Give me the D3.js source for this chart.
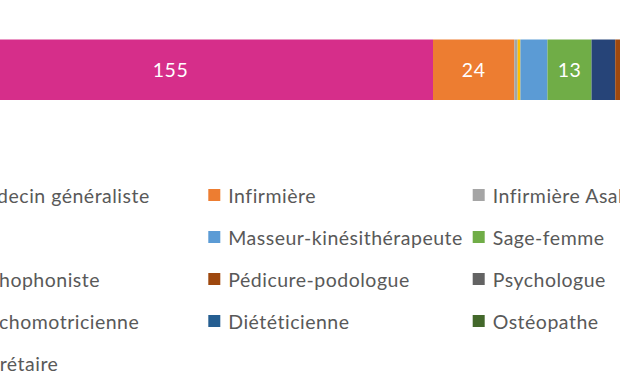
<!DOCTYPE html>
<html><head><meta charset="utf-8">
<script src="https://cdn.jsdelivr.net/npm/d3@7"></script>
<style>body{margin:0;background:#fff;overflow:hidden} svg{display:block}</style>
</head><body><svg width="620" height="380"></svg>
<script>
const categories = ["Médecin généraliste","Infirmière","Infirmière Asalée","AS","Masseur-kinésithérapeute","Sage-femme","Orthophoniste","Pédicure-podologue","Psychologue","Psychomotricienne","Diététicienne","Ostéopathe","Secrétaire"];
const values = [155,24,1,0.8,8,13,7,2,3,1,2,3,5];
const colors = ["#D62E8A","#ED7D31","#A5A5A5","#FFC000","#5B9BD5","#70AD47","#264478","#9E480E","#636363","#997300","#255E91","#43682B","#698ED0"];
const labelMin = 10;

const svg = d3.select("svg");
const font = "Lato, 'Open Sans', sans-serif";

const x = d3.scaleLinear().domain([0, values[0]]).range([-92, 433]);
const y = d3.scaleBand().domain(["Total"]).range([39.5, 100]).padding(0);

const starts = values.map((v, i) => d3.sum(values.slice(0, i)));
const data = categories.map((c, i) => ({c, v: values[i], s: starts[i], col: colors[i]}));

const g = svg.append("g");
g.selectAll("rect.bar").data(data).join("rect")
  .attr("class", "bar")
  .attr("x", d => x(d.s))
  .attr("width", d => x(d.s + d.v) - x(d.s))
  .attr("y", y("Total"))
  .attr("height", y.bandwidth())
  .attr("fill", d => d.col);

g.selectAll("text.lbl").data(data.filter(d => d.v >= labelMin)).join("text")
  .attr("class", "lbl")
  .attr("x", d => x(d.s + d.v / 2))
  .attr("y", y("Total") + y.bandwidth() / 2)
  .attr("text-anchor", "middle")
  .attr("dominant-baseline", "central")
  .attr("font-family", font)
  .attr("font-size", 19.5)
  .attr("letter-spacing", 0.5)
  .attr("fill", "#ffffff")
  .text(d => d.v);

// legend
const colX = [-52, 208.3, 472.7], rowY0 = 195, rowStep = 42;
const lg = svg.append("g");
const items = lg.selectAll("g.item").data(data).join("g")
  .attr("class", "item")
  .attr("transform", (d, i) => {
    const col = i % 3, row = Math.floor(i / 3);
    return `translate(${colX[col]},${rowY0 + row * rowStep})`;
  });
items.append("rect")
  .attr("x", 0).attr("y", -6).attr("width", 12).attr("height", 12)
  .attr("fill", d => d.col);
items.append("text")
  .attr("x", 20).attr("y", 0)
  .attr("dominant-baseline", "central")
  .attr("font-family", font)
  .attr("font-size", 19.5)
  .attr("letter-spacing", 0.5)
  .attr("fill", "#595959")
  .text(d => d.c);
</script></body></html>
